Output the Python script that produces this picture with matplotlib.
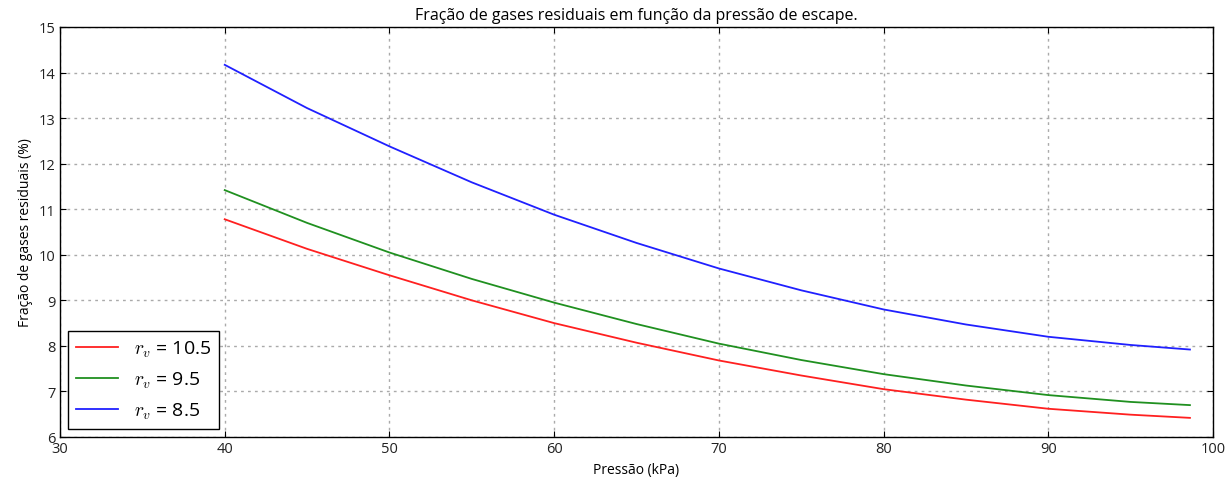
import matplotlib
matplotlib.use('Agg')
import matplotlib.pyplot as plt

plt.rcParams['font.family'] = ['Open Sans', 'DejaVu Sans']
plt.rcParams['mathtext.fontset'] = 'cm'

# Pressão (kPa) e fração de gases residuais (%)
pressao = [40, 45, 50, 55, 60, 65, 70, 75, 80, 85, 90, 95, 98.6]
fr_105 = [10.78, 10.13, 9.55, 9.00, 8.50, 8.07, 7.68, 7.35, 7.05, 6.82, 6.62, 6.49, 6.42]
fr_95 = [11.42, 10.70, 10.05, 9.47, 8.95, 8.48, 8.05, 7.69, 7.38, 7.13, 6.92, 6.77, 6.70]
fr_85 = [14.17, 13.22, 12.38, 11.59, 10.88, 10.26, 9.70, 9.22, 8.80, 8.47, 8.20, 8.02, 7.92]

fig = plt.figure(figsize=(12.32, 4.85), dpi=100)
ax = fig.add_axes([60/1232, 1 - 438/485, (1213-60)/1232, (438-28)/485])

ax.plot(pressao, fr_105, color='#ff2020', lw=1.3, label=r'$r_v$ = 10.5')
ax.plot(pressao, fr_95, color='#209020', lw=1.3, label=r'$r_v$ = 9.5')
ax.plot(pressao, fr_85, color='#2020ff', lw=1.3, label=r'$r_v$ = 8.5')

ax.set_xlim(30, 100)
ax.set_ylim(6, 15)
ax.set_xticks(range(30, 101, 10))
ax.set_yticks(range(6, 16))
ax.tick_params(direction='in', top=True, right=True, labelsize=10.5, length=4, pad=3,
               labelcolor='#222222')
ax.grid(True, color='#aaaaaa', linestyle=(0, (2, 3)), linewidth=1)
for s in ax.spines.values():
    s.set_linewidth(1)

ax.set_title('Fração de gases residuais em função da pressão de escape.', fontsize=11.5)
ax.set_xlabel('Pressão (kPa)', fontsize=10)
ax.set_ylabel('Fração de gases residuais (%)', fontsize=10)

leg = ax.legend(loc='lower left', fontsize=14, fancybox=False, framealpha=1,
                edgecolor='black', borderaxespad=0.4, handlelength=2.2,
                labelspacing=0.55)
leg.get_frame().set_linewidth(1)

fig.savefig('out.png', dpi=100, facecolor='white')
